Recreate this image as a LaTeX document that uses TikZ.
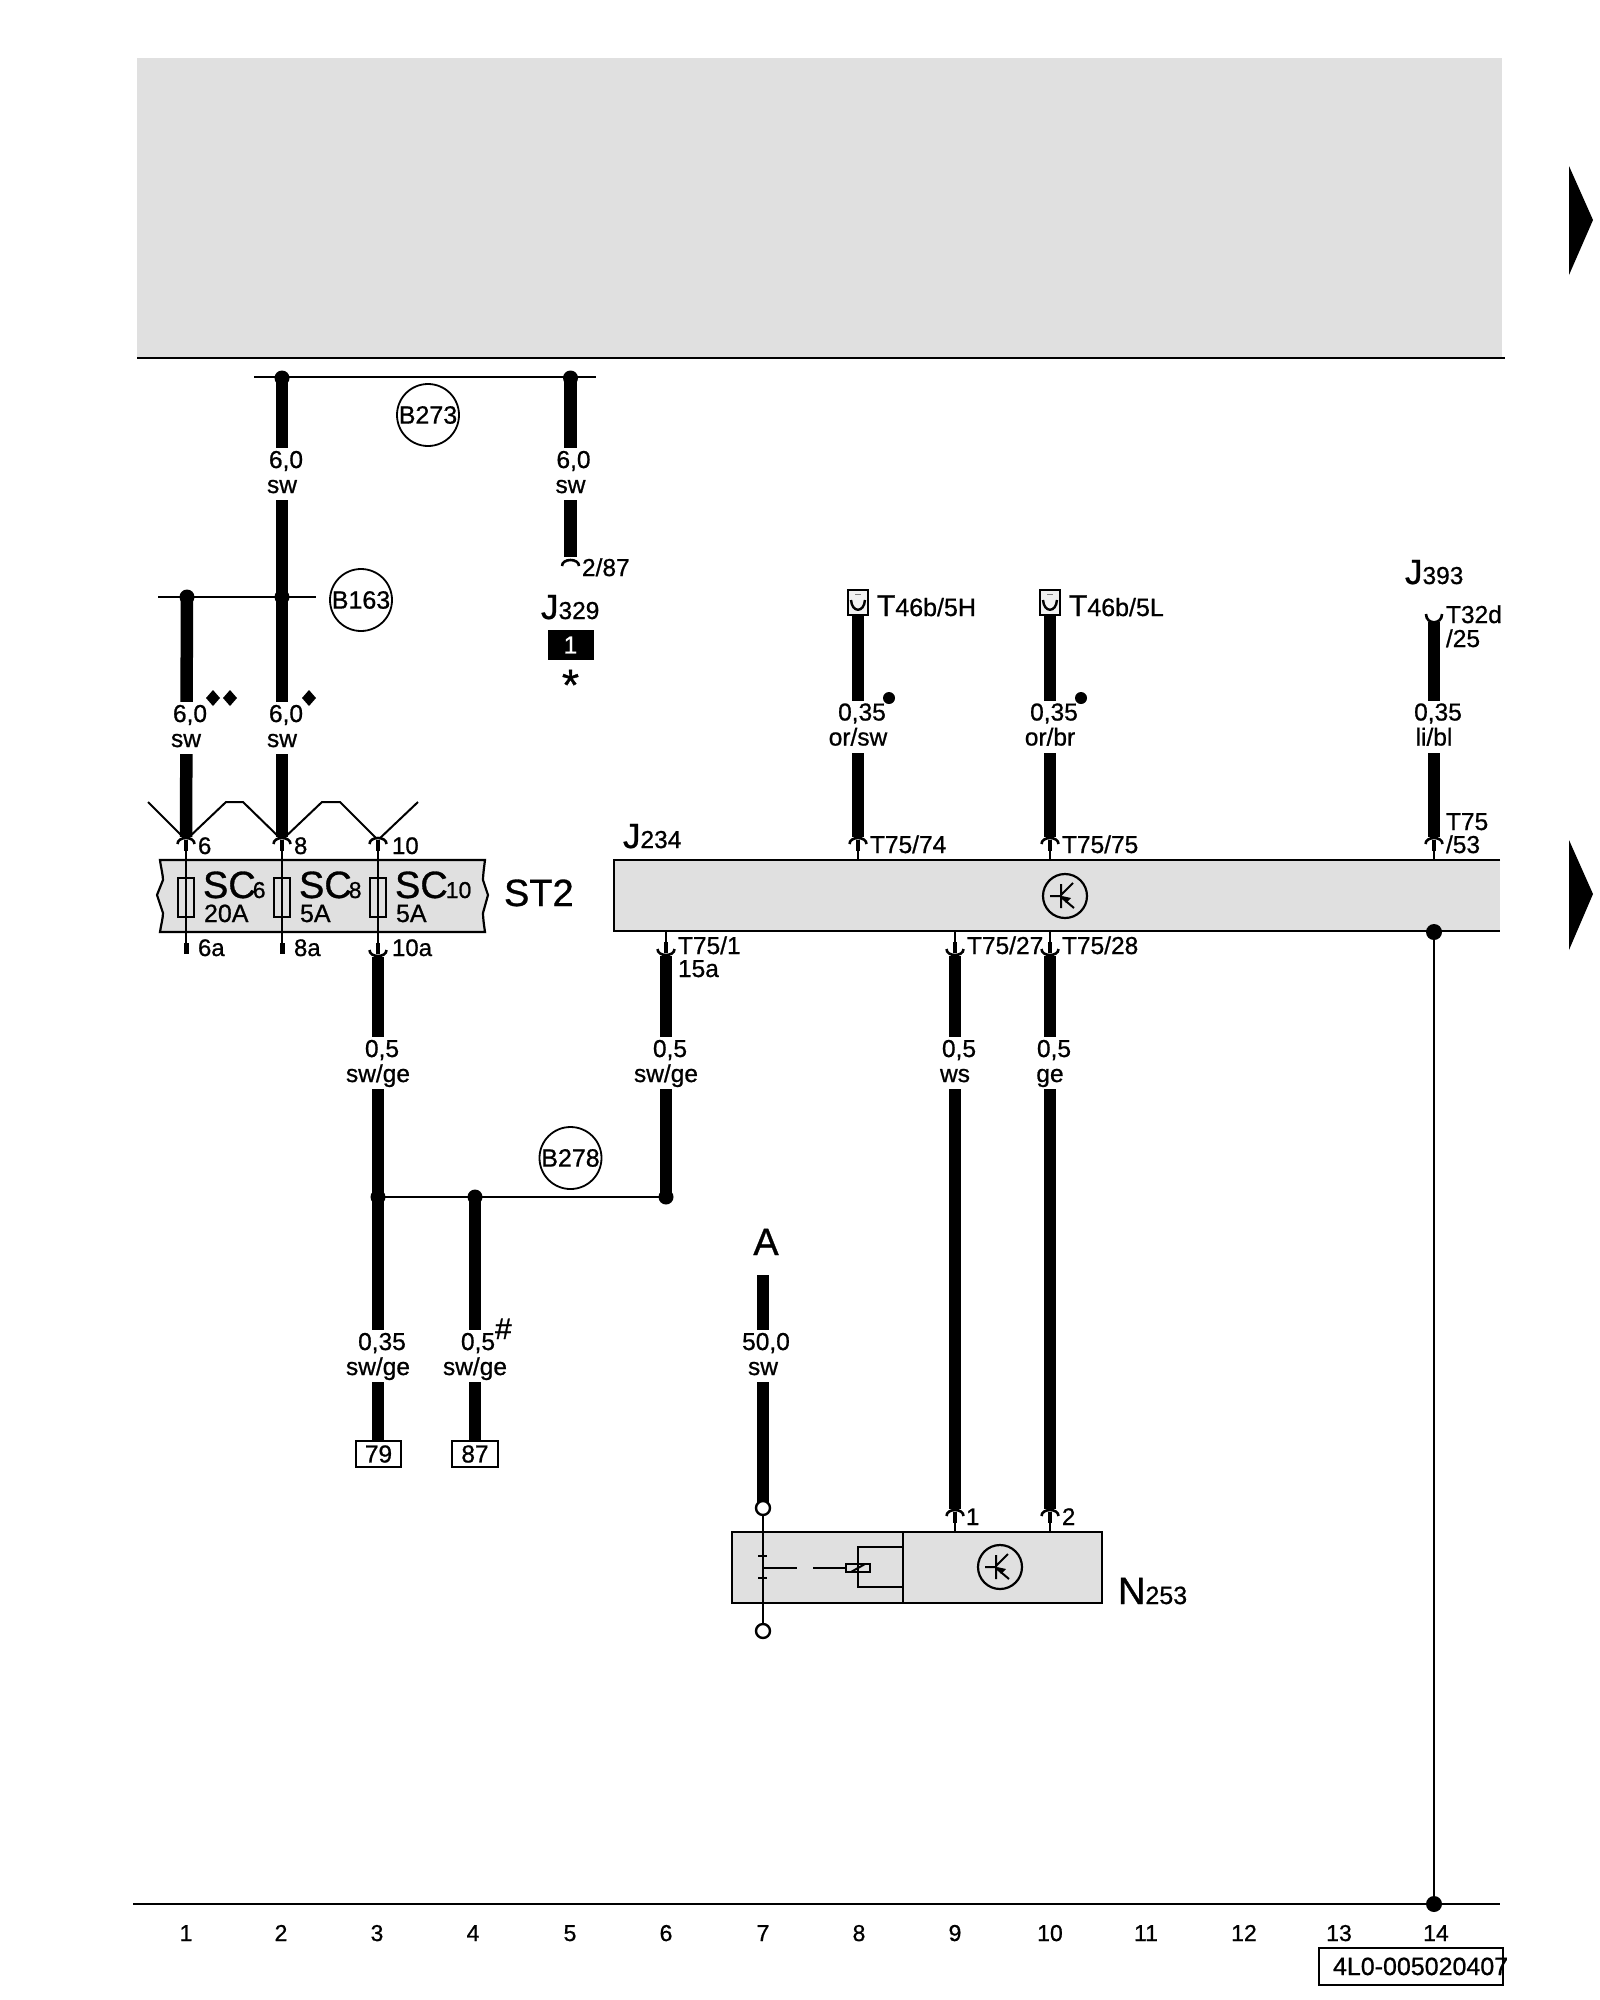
\documentclass[tikz,border=0pt]{standalone}
\usepackage{fontspec}
\setmainfont{Liberation Sans}[FakeBold=0.8]
\newcommand{\fs}[1]{\fontsize{#1}{#1}\selectfont}
\definecolor{panel}{HTML}{E0E0E0}
\tikzset{
  x=1pt,y=-1pt,
  thin wire/.style={line width=2.2pt,black},
  wire/.style={line width=12.5pt,black},
  txt/.style={inner sep=0pt,outer sep=0pt,anchor=base west,font=\fs{24.5}},
  ctxt/.style={inner sep=0pt,outer sep=0pt,anchor=base,font=\fs{24.5}},
  gapbox/.style={fill=white,inner sep=0pt,minimum width=18pt,minimum height=52pt},
  jdot/.style={circle,fill=black,inner sep=0pt,minimum size=15pt},
  ring/.style={circle,draw=black,line width=2.4pt,fill=white,inner sep=0pt,minimum size=14pt},
  bubble/.style={circle,draw=black,line width=1.8pt,fill=white,inner sep=0pt,minimum size=62pt,font=\fs{25}},
  panelbox/.style={draw=black,line width=2.2pt,fill=panel},
  fuse/.style={draw=black,line width=2pt,inner sep=0pt,minimum width=16pt,minimum height=39pt},
  tag/.style={draw=black,line width=2pt,fill=white,inner sep=0pt,font=\fs{24.5}},
  trcircle/.style={circle,draw=black,line width=2.2pt,inner sep=0pt,minimum size=44pt},
}
% wire label: name, wire x, gap centre y, first line, dx of first line, second line
\newcommand{\wlabel}[6]{%
  \node[gapbox] (#1) at (#2,#3) {};
  \node[ctxt] (#1a) at ({#2+#5},{#3-6}) {#4};
  \node[ctxt] (#1b) at (#2,{#3+19}) {#6};
}
\newcommand{\pinup}[3]{% x, apex y, edge y
  \draw[thin wire] (#1,#2+2) -- (#1,#3);
  \fill (#1-2,#2+2) rectangle (#1+2,#2+13);
  \draw[line width=2.6pt] (#1-8.5,#2+6) .. controls (#1-8.5,#2-2) and (#1+8.5,#2-2) .. (#1+8.5,#2+6);
}
\newcommand{\pindown}[3]{% x, apex y, edge y
  \draw[thin wire] (#1,#2-2) -- (#1,#3);
  \fill (#1-2,#2-2) rectangle (#1+2,#2-13);
  \draw[line width=2.6pt] (#1-8.5,#2-6) .. controls (#1-8.5,#2+2) and (#1+8.5,#2+2) .. (#1+8.5,#2-6);
}
\newcommand{\transistor}[3]{% name, x, y
  \node[trcircle] (#1) at (#2,#3) {};
  \begin{scope}[shift={(#2,#3)}]
    \draw[line width=2pt] (-15,0) -- (-4,0) (-4,-12) -- (-4,12) (-4,-1) -- (8,-13);
    \draw[line width=2pt] (-4,1) -- (9,12);
    \fill (-3,0) -- (6,2) -- (1,7) -- cycle;
  \end{scope}
}
\begin{document}
\begin{tikzpicture}
\useasboundingbox (0,0) rectangle (1600,2000);
\fill[white] (0,0) rectangle (1600,2000);
% top panel and rails
\fill[panel] (137,58) rectangle (1502,357);
\coordinate (railL) at (137,357.5); \coordinate (railR) at (1505,357.5);
\draw[line width=2pt] (railL) -- (railR);
\coordinate (baseL) at (133,1904); \coordinate (baseR) at (1500,1904);
\draw[line width=2pt] (baseL) -- (baseR);
% page arrows
\fill (1569,166) -- (1593,220) -- (1569,275) -- cycle;
\fill (1569,840) -- (1593,894) -- (1569,950) -- cycle;

% main boxes
\draw[panelbox] (160,860) .. controls (161,868) and (163,875) .. (163,880) -- (157,895) -- (163,913) .. controls (163,918) and (161,925) .. (160,932) -- (485,932) .. controls (484,925) and (483,918) .. (483,913) -- (488,895) -- (483,880) .. controls (483,875) and (484,868) .. (485,860) -- cycle;
\node[fuse] (f6) at (186,897.5) {};
\node[fuse] (f8) at (282,897.5) {};
\node[fuse] (f10) at (378,897.5) {};
\draw[panelbox] (1500,860) -- (614,860) -- (614,931) -- (1500,931);
\fill[panel] (616,861) rectangle (1500,930);
\draw[panelbox] (732,1532) rectangle (1102,1603);
\draw[line width=2.2pt] (903,1532) -- (903,1603);

% thick wires
\coordinate (jB273a) at (282,378); \coordinate (jB273b) at (570.5,378);
\coordinate (jB163a) at (187,597); \coordinate (jB163b) at (282,597);
\coordinate (p6) at (186,837); \coordinate (p8) at (282,837); \coordinate (p10) at (378,837);
\coordinate (p287) at (570.5,557);
\coordinate (p74) at (858,837); \coordinate (p75) at (1050,837); \coordinate (p53) at (1434,837);
\coordinate (p25) at (1434,622);
\coordinate (c1) at (378,957); \coordinate (c15) at (666,956); \coordinate (c27) at (955,956); \coordinate (c28) at (1050,956);
\coordinate (jA) at (378,1197); \coordinate (jB) at (475,1197); \coordinate (jC) at (666,1197);
\coordinate (n1) at (955,1509); \coordinate (n2) at (1050,1509);
\coordinate (tA) at (763,1275); \coordinate (rA) at (763,1508); \coordinate (rB) at (763,1631);

% zigzag of the fuse carrier
\draw[line width=2pt] (148,802) -- (186,840) -- (226,802) -- (243,802) -- (282,840) -- (322,802) -- (340,802) -- (378,840) -- (418,802);

% buses
\draw[line width=2pt] (254,377) -- (596,377);
\draw[line width=2pt] (158,597) -- (316,597);
\draw[line width=2.4pt] (jA) -- (jC);

\draw[wire] (jB273a) -- (p8);
\draw[wire] (jB273b) -- (p287);
\draw[wire] (jB163a) -- (p6);
\draw[wire] (858,615) -- (p74);
\draw[wire] (1050,615) -- (p75);
\draw[wire] (p25) -- (p53);
\draw[wire] (c1) -- (378,1441);
\draw[wire] (jB) -- (475,1441);
\draw[wire] (c15) -- (jC);
\draw[wire] (c27) -- (n1);
\draw[wire] (c28) -- (n2);
\draw[wire] (tA) -- (rA);

% connectors
\fill[white] (176,838) rectangle (196,842);
\fill[white] (272,838) rectangle (292,842);
\fill[white] (368,838) rectangle (388,842);
\pinup{186}{838}{852}\pinup{282}{838}{852}\pinup{378}{838}{852}
\draw[thin wire] (186,852) -- (186,945);
\draw[thin wire] (282,852) -- (282,945);
\draw[thin wire] (378,852) -- (378,945);
\fill (183.5,943) rectangle (188.5,954);
\fill (279.5,943) rectangle (284.5,954);
\pindown{378}{956}{943}
\pinup{858}{838}{860}\pinup{1050}{838}{860}\pinup{1434}{838}{860}
\pindown{666}{955}{931}\pindown{955}{955}{931}\pindown{1050}{955}{931}
\pinup{955}{1510}{1532}\pinup{1050}{1510}{1532}
\draw[line width=2.6pt] (562,566) .. controls (562,558) and (579,558) .. (579,566);
\draw[line width=2.6pt] (1426,614) .. controls (1426,625) and (1442,625) .. (1442,614);

% harness connector boxes
\node[draw=black,line width=2pt,fill=panel!45,inner sep=0pt,minimum width=20pt,minimum height=25pt] (T5H) at (858,602.5) {};
\node[draw=black,line width=2pt,fill=panel!45,inner sep=0pt,minimum width=20pt,minimum height=25pt] (T5L) at (1050,602.5) {};
\draw[line width=2.4pt] (851,600) .. controls (852,613) and (864,613) .. (865,600);
\draw[line width=2.4pt] (1043,600) .. controls (1044,613) and (1056,613) .. (1057,600);
\draw[line width=1pt,gray] (855,594) -- (861,594) (1047,594) -- (1053,594);

% junctions
\node[jdot] (d1) at (jB273a) {}; \node[jdot] (d2) at (jB273b) {};
\node[jdot] (d3) at (jB163a) {}; \node[jdot] (d4) at (jB163b) {};
\node[jdot] (d5) at (jA) {}; \node[jdot] (d6) at (jB) {}; \node[jdot] (d7) at (jC) {};
\node[jdot,minimum size=16pt] (d8) at (1434,932) {};
\node[jdot,minimum size=16pt] (d9) at (1434,1904) {};
\draw[thin wire] (d8) -- (d9);

% wire labels
\wlabel{w1}{282}{474}{6,0}{4}{sw}
\wlabel{w2}{570.5}{474}{6,0}{3}{sw}
\wlabel{w3}{186}{728}{6,0}{4}{sw}
\wlabel{w4}{282}{728}{6,0}{4}{sw}
\wlabel{w5}{858}{726.5}{0,35}{4}{or/sw}
\wlabel{w6}{1050}{726.5}{0,35}{4}{or/br}
\wlabel{w7}{1434}{726.5}{0,35}{4}{li/bl}
\wlabel{w8}{378}{1063}{0,5}{4}{sw/ge}
\wlabel{w9}{666}{1063}{0,5}{4}{sw/ge}
\wlabel{w10}{955}{1063}{0,5}{4}{ws}
\wlabel{w11}{1050}{1063}{0,5}{4}{ge}
\wlabel{w12}{378}{1356}{0,35}{4}{sw/ge}
\wlabel{w13}{475}{1356}{0,5}{3}{sw/ge}
\wlabel{w14}{763}{1356}{50,0}{3}{sw}

% bubbles
\node[bubble] (B273) at (428,415) {B273};
\node[bubble] (B163) at (361,600) {B163};
\node[bubble] (B278) at (570.5,1158) {B278};

% fuse texts
\node[txt,font=\fs{38}] (sc6) at (203,898) {SC\kern-3pt\fs{23}6};
\node[txt,font=\fs{38}] (sc8) at (299,898) {SC\kern-3pt\fs{23}8};
\node[txt,font=\fs{38}] (sc10) at (395,898) {SC\kern-2pt\fs{23}10};
\node[txt,font=\fs{25}] (a20) at (204,922) {20A};
\node[txt,font=\fs{25}] (a5a) at (300,922) {5A};
\node[txt,font=\fs{25}] (a5b) at (396,922) {5A};
\node[txt,font=\fs{24}] (n6) at (198,854) {6};
\node[txt,font=\fs{24}] (n8) at (294,854) {8};
\node[txt,font=\fs{24}] (n10) at (392,854) {10};
\node[txt,font=\fs{24}] (n6a) at (198,956) {6a};
\node[txt,font=\fs{24}] (n8a) at (294,956) {8a};
\node[txt,font=\fs{24}] (n10a) at (392,956) {10a};
\node[txt,font=\fs{38}] (ST2) at (504,906) {ST2};

% component labels
\node[txt] (l287) at (582,576) {2/87};
\node[txt,font=\fs{35}] (J329) at (541,619) {J\fs{24.5}329};
\node[fill=black,text=white,inner sep=0pt,minimum width=46pt,minimum height=30pt,font=\fs{24.5}] (blk) at (570.5,645) {1};
\node[inner sep=0pt,font=\fs{44}] (star) at (570.5,685) {*};
\fill (213,690) -- (220,698) -- (213,706) -- (206,698) -- cycle;
\fill (230,690) -- (237,698) -- (230,706) -- (223,698) -- cycle;
\fill (309,690) -- (316,698) -- (309,706) -- (302,698) -- cycle;
\node[jdot,minimum size=12pt] (b1) at (889,698) {};
\node[jdot,minimum size=12pt] (b2) at (1081,698) {};
\node[txt,font=\fs{30}] (T1) at (877,616) {T\fs{25}46b/5H};
\node[txt,font=\fs{30}] (T2) at (1069,616) {T\fs{25}46b/5L};
\node[txt,font=\fs{35}] (J393) at (1405,584) {J\fs{24.5}393};
\node[txt] (t1) at (1446,623) {T32d};
\node[txt] (t2) at (1446,647) {/25};
\node[txt] (t3) at (1446,830) {T75};
\node[txt] (t4) at (1446,853) {/53};
\node[txt] (t5) at (870,853) {T75/74};
\node[txt] (t6) at (1062,853) {T75/75};
\node[txt,font=\fs{35}] (J234) at (623,848) {J\fs{24.5}234};
\node[txt] (t7) at (678,954) {T75/1};
\node[txt] (t8) at (678,977) {15a};
\node[txt] (t9) at (967,954) {T75/27};
\node[txt] (t10) at (1062,954) {T75/28};
\node[txt,font=\fs{30}] (hash) at (495,1339) {\#};
\node[tag,minimum width=45pt,minimum height=26pt] (b79) at (378.5,1454) {79};
\node[tag,minimum width=46pt,minimum height=26pt] (b87) at (475,1454) {87};
\node[ctxt,font=\fs{38}] (A) at (766,1255) {A};
\node[txt,font=\fs{24}] (p1) at (966,1525) {1};
\node[txt,font=\fs{24}] (p2) at (1062,1525) {2};
\node[txt,font=\fs{38}] (N253) at (1118,1604) {N\fs{25}253};

% transistors
\transistor{tr1}{1065}{896}
\transistor{tr2}{1000}{1567}

% position sensor in N253
\node[ring] (r1) at (rA) {};
\node[ring] (r2) at (rB) {};
\draw[thin wire] (r1) -- (r2);
\draw[line width=2pt] (758,1556) -- (767,1556) (758,1578) -- (767,1578);
\draw[line width=2pt] (763,1568) -- (797,1568) (813,1568) -- (846,1568);
\node[draw=black,line width=2pt,fill=panel,inner sep=0pt,minimum width=24pt,minimum height=8pt] (coil) at (858,1568) {};
\draw[line width=2pt] (851,1572) -- (865,1564);
\draw[line width=2pt] (903,1547) -- (858,1547) -- (858,1587) -- (903,1587);

% column numbers
\foreach \n/\x in {1/186,2/281,3/377,4/473,5/570,6/666,7/763,8/859,9/955,10/1050,11/1146,12/1244,13/1339,14/1436}
  \node[ctxt,font=\fs{23}] (col\n) at (\x,1941) {\n};
% drawing number
\node[draw=black,line width=2pt,inner sep=0pt,minimum width=184pt,minimum height=37pt] (docbox) at (1410.5,1966) {};
\node[txt,font=\fs{25}] (doc) at (1333,1975) {4L0-005020407};
\end{tikzpicture}
\end{document}
